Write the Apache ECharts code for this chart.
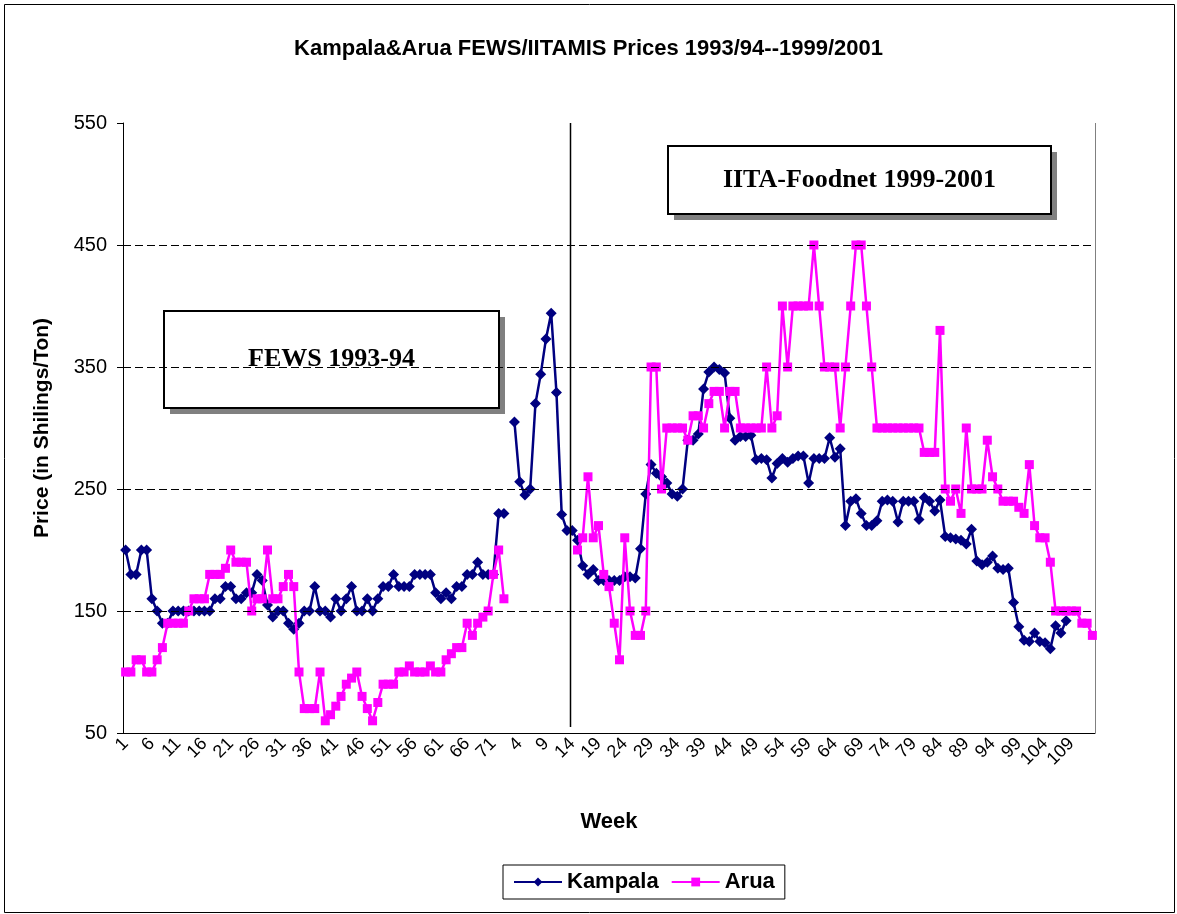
<!DOCTYPE html>
<html>
<head>
<meta charset="utf-8">
<script src="https://cdn.jsdelivr.net/npm/echarts@6/dist/echarts.min.js"></script>
<style>
  html, body { margin: 0; padding: 0; background: #fff; }
  #chart { width: 1177px; height: 914px; }
</style>
</head>
<body>
<div id="chart"></div>
<script>
// week numbers: FEWS block (1993/94) then the IITA block restarts at 1
const fewsWeeks = Array.from({ length: 72 }, (_, i) => String(i + 1))
const iitaWeeks = Array.from({ length: 113 }, (_, i) => String(i + 1))
const weekLabels = fewsWeeks.concat(iitaWeeks)

const yTicks = [50, 150, 250, 350, 450, 550]
const gridValues = [150, 250, 350, 450]

// price, one value per week (null = no data)
const kampala = [
  200, 180, 180, 200, 200, 160, 150, 140, 140, 150,
  150, 150, 150, 150, 150, 150, 150, 160, 160, 170,
  170, 160, 160, 165, 165, 180, 175, 155, 145, 150,
  150, 140, 135, 140, 150, 150, 170, 150, 150, 145,
  160, 150, 160, 170, 150, 150, 160, 150, 160, 170,
  170, 180, 170, 170, 170, 180, 180, 180, 180, 165,
  160, 165, 160, 170, 170, 180, 180, 190, 180, 180,
  180, 230, 230, null, 305, 256, 245, 250, 320, 344,
  373, 394, 329, 229, 216, 216, 208, 187, 180, 184,
  175, 175, 175, 175, 175, 178, 178, 177, 201, 246,
  270, 263, 260, 255, 246, 244, 250, 290, 290, 295,
  332, 346, 350, 348, 345, 308, 290, 293, 293, 294,
  274, 275, 274, 259, 271, 275, 272, 275, 277, 277,
  255, 275, 275, 275, 292, 276, 283, 220, 240, 242,
  230, 220, 220, 224, 240, 241, 240, 223, 240, 240,
  240, 225, 243, 240, 232, 241, 211, 210, 209, 208,
  205, 217, 191, 188, 190, 195, 185, 184, 185, 157,
  137, 126, 125, 132, 125, 124, 119, 138, 132, 142,
  null, null, null, null, null
]

const arua = [
  100, 100, 110, 110, 100, 100, 110, 120, 140, 140,
  140, 140, 150, 160, 160, 160, 180, 180, 180, 185,
  200, 190, 190, 190, 150, 160, 160, 200, 160, 160,
  170, 180, 170, 100, 70, 70, 70, 100, 60, 65,
  72, 80, 90, 95, 100, 80, 70, 60, 75, 90,
  90, 90, 100, 100, 105, 100, 100, 100, 105, 100,
  100, 110, 115, 120, 120, 140, 130, 140, 145, 150,
  180, 200, 160, null, null, null, null, null, null, null,
  null, null, null, null, null, null, 200, 210, 260, 210,
  220, 180, 170, 140, 110, 210, 150, 130, 130, 150,
  350, 350, 250, 300, 300, 300, 300, 290, 310, 310,
  300, 320, 330, 330, 300, 330, 330, 300, 300, 300,
  300, 300, 350, 300, 310, 400, 350, 400, 400, 400,
  400, 450, 400, 350, 350, 350, 300, 350, 400, 450,
  450, 400, 350, 300, 300, 300, 300, 300, 300, 300,
  300, 300, 280, 280, 280, 380, 250, 240, 250, 230,
  300, 250, 250, 250, 290, 260, 250, 240, 240, 240,
  235, 230, 270, 220, 210, 210, 190, 150, 150, 150,
  150, 150, 140, 140, 130
]

const sans = 'Liberation Sans, Arial, sans-serif'
const serif = 'Liberation Serif, Times New Roman, serif'

const chart = echarts.init(document.getElementById('chart'), null, { renderer: 'canvas' })

chart.setOption({
  animation: false,
  backgroundColor: '#fff',
  title: {
    text: 'Kampala&Arua FEWS/IITAMIS Prices 1993/94--1999/2001',
    left: 'center',
    top: 33,
    textStyle: { fontFamily: sans, fontSize: 22, fontWeight: 'bold', color: '#000' }
  },
  legend: {
    left: 503,
    top: 865,
    data: ['Kampala', 'Arua'],
    itemWidth: 48,
    itemHeight: 11,
    itemGap: 12,
    padding: [6, 10],
    borderColor: '#000',
    borderWidth: 1,
    textStyle: { fontFamily: sans, fontSize: 22, fontWeight: 'bold', color: '#000' }
  },
  grid: { left: 123, right: 82, top: 123, bottom: 181 },
  xAxis: {
    type: 'category',
    data: weekLabels,
    boundaryGap: true,
    name: 'Week',
    nameLocation: 'middle',
    nameGap: 78,
    nameTextStyle: { fontFamily: sans, fontSize: 22, fontWeight: 'bold', color: '#000' },
    axisLine: { lineStyle: { color: '#000', width: 1 } },
    axisTick: { interval: 0, length: 5, lineStyle: { color: '#000' } },
    axisLabel: {
      interval: 4,
      rotate: 45,
      margin: 8,
      fontFamily: sans,
      fontSize: 18,
      color: '#000'
    },
    splitLine: { show: false }
  },
  yAxis: {
    type: 'value',
    min: 50,
    max: 550,
    name: 'Price (in Shilings/Ton)',
    nameLocation: 'middle',
    nameRotate: 90,
    nameGap: 70,
    nameTextStyle: { fontFamily: sans, fontSize: 21, fontWeight: 'bold', color: '#000' },
    axisLine: { show: true, lineStyle: { color: '#000', width: 1 } },
    axisTick: { show: true, length: 6, customValues: yTicks, lineStyle: { color: '#000' } },
    axisLabel: { customValues: yTicks, margin: 16, fontFamily: sans, fontSize: 20, color: '#000' },
    splitLine: { show: false }
  },
  series: [
    {
      name: 'Kampala',
      type: 'line',
      data: kampala,
      connectNulls: false,
      showAllSymbol: true,
      symbol: 'diamond',
      symbolSize: 11,
      lineStyle: { color: '#000080', width: 2.5 },
      itemStyle: { color: '#000080' },
      markLine: {
        silent: true,
        symbol: 'none',
        label: { show: false },
        lineStyle: { color: '#000', type: [8, 4], width: 1 },
        data: gridValues.map(v => ({ yAxis: v }))
      },
      z: 3
    },
    {
      name: 'Arua',
      type: 'line',
      data: arua,
      connectNulls: false,
      showAllSymbol: true,
      symbol: 'rect',
      symbolSize: 9,
      lineStyle: { color: '#ff00ff', width: 2.5 },
      itemStyle: { color: '#ff00ff' },
      z: 4
    }
  ]
})

// divider between FEWS and IITA blocks, placed with the axis scale
const xa = chart.convertToPixel({ xAxisIndex: 0 }, 84)
const xb = chart.convertToPixel({ xAxisIndex: 0 }, 85)
const divX = Math.round((xa + xb) / 2) + 0.5
const yTop = chart.convertToPixel({ yAxisIndex: 0 }, 550)
const yBot = chart.convertToPixel({ yAxisIndex: 0 }, 55)

function noteBox(x, y, w, h, label) {
  return {
    type: 'group',
    left: x,
    top: y,
    children: [
      { type: 'rect', shape: { x: 6, y: 6, width: w, height: h }, style: { fill: '#808080' } },
      { type: 'rect', shape: { x: 0, y: 0, width: w, height: h }, style: { fill: '#fff', stroke: '#000', lineWidth: 2 } },
      {
        type: 'text',
        x: w / 2,
        y: h / 2,
        style: {
          text: label,
          align: 'center',
          verticalAlign: 'middle',
          font: 'bold 26px ' + serif,
          fill: '#000'
        }
      }
    ]
  }
}

chart.setOption({
  graphic: [
    {
      type: 'rect',
      left: 2,
      top: 2,
      shape: { width: 1170, height: 908 },
      style: { fill: 'none', stroke: '#000', lineWidth: 1 },
      silent: true
    },
    {
      type: 'line',
      shape: { x1: divX, y1: yTop, x2: divX, y2: yBot },
      style: { stroke: '#000', lineWidth: 1.5 },
      z: 10
    },
    {
      type: 'line',
      shape: { x1: 1095.5, y1: yTop, x2: 1095.5, y2: chart.convertToPixel({ yAxisIndex: 0 }, 50) },
      style: { stroke: '#808080', lineWidth: 1 }
    },
    noteBox(163, 310, 335, 97, 'FEWS 1993-94'),
    noteBox(667, 145, 383, 68, 'IITA-Foodnet 1999-2001')
  ]
})
</script>
</body>
</html>
